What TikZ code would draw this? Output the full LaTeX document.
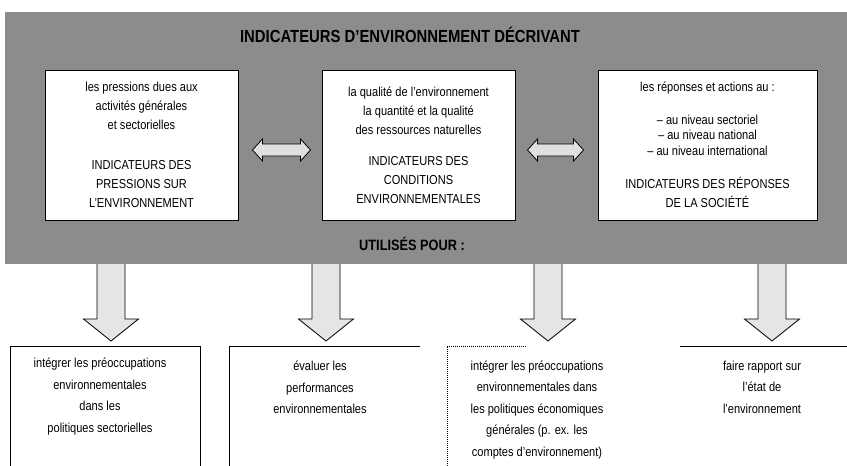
\documentclass[tikz,border=0pt]{standalone}
\usepackage{fontspec}
\setmainfont{Liberation Sans}[FakeStretch=0.85]
\usetikzlibrary{calc}

\begin{document}
\begin{tikzpicture}[x=1pt, y=-1pt,
        band/.style={fill=black!45, inner sep=0pt, minimum width=842pt, minimum height=252pt},
        indic/.style={draw, fill=white, line width=1pt, align=center, inner sep=0pt, minimum height=150pt, font=\fontsize{13}{19}\selectfont},
        usage/.style={align=center, font=\fontsize{13}{21.5}\selectfont},
        heading/.style={font=\fontsize{17.5}{20}\selectfont\bfseries},
        frame/.style={line width=1pt},
        dblarrow/.style={draw, line width=0.8pt, fill=black!12},
        blockarrow/.style={draw, line width=0.8pt, fill=black!10}
    ]
        \useasboundingbox (0,0) rectangle (847,466);

        \node[band] (band) at (426,138) {};
        \node[heading] (title) at (410,35) {INDICATEURS D'ENVIRONNEMENT DÉCRIVANT};

        \node[indic, minimum width=193pt] (press) at (141.5,145) {les pressions dues aux\\activités générales\\et sectorielles\\[21pt]INDICATEURS DES\\PRESSIONS SUR\\L'ENVIRONNEMENT};
        \node[indic, minimum width=193pt] (cond) at (418.5,145) {la qualité de l'environnement\\la quantité et la qualité\\des ressources naturelles\\[12pt]INDICATEURS DES\\CONDITIONS\\ENVIRONNEMENTALES};
        \node[indic, minimum width=219pt] (resp) at (707.5,145) {les réponses et actions au :\\[14pt]– au niveau sectoriel\\[-4pt]– au niveau national\\[-3pt]– au niveau international\\[14pt]INDICATEURS DES RÉPONSES\\DE LA SOCIÉTÉ};

        \node[heading, font=\fontsize{15}{17}\selectfont\bfseries] (usedfor) at (412,244) {UTILISÉS POUR :};

        % double arrows between the indicator boxes
        \draw[dblarrow] ($(press.east)+(14,5)$) -- ++(10,-11) -- ++(0,5) -- ++(38,0) -- ++(0,-5) -- ++(10,11) -- ++(-10,11) -- ++(0,-5) -- ++(-38,0) -- ++(0,5) -- cycle;
        \draw[dblarrow] ($(cond.east)+(12,5)$) -- ++(10,-11) -- ++(0,5) -- ++(36,0) -- ++(0,-5) -- ++(10,11) -- ++(-10,11) -- ++(0,-5) -- ++(-36,0) -- ++(0,5) -- cycle;

        % arrows down to the uses
        \foreach \x in {111,326,548,772}
            \draw[blockarrow] (\x-14,264) -- (\x-14,319) -- (\x-27.5,319) -- (\x,341) -- (\x+27.5,319) -- (\x+14,319) -- (\x+14,264);

        \draw[frame] (10,466) -- (10,346) -- (200,346) -- (200,466);
        \draw[frame] (229,466) -- (229,346) -- (420,346);
        \draw[frame, densely dotted] (447,466) -- (447,346) -- (527,346);
        \draw[frame] (680,346) -- (847,346);

        \node[usage] (integ) at (100,396.5) {intégrer les préoccupations\\environnementales\\dans les\\politiques sectorielles};
        \node[usage] (evalu) at (320,387.5) {évaluer les\\performances\\environnementales};
        \node[usage] (econ) at (537,410) {intégrer les préoccupations\\environnementales dans\\les politiques économiques\\générales (p. ex. les\\comptes d'environnement)};
        \node[usage] (rapport) at (762,387) {faire rapport sur\\l'état de\\l'environnement};
    \end{tikzpicture}
\end{document}
